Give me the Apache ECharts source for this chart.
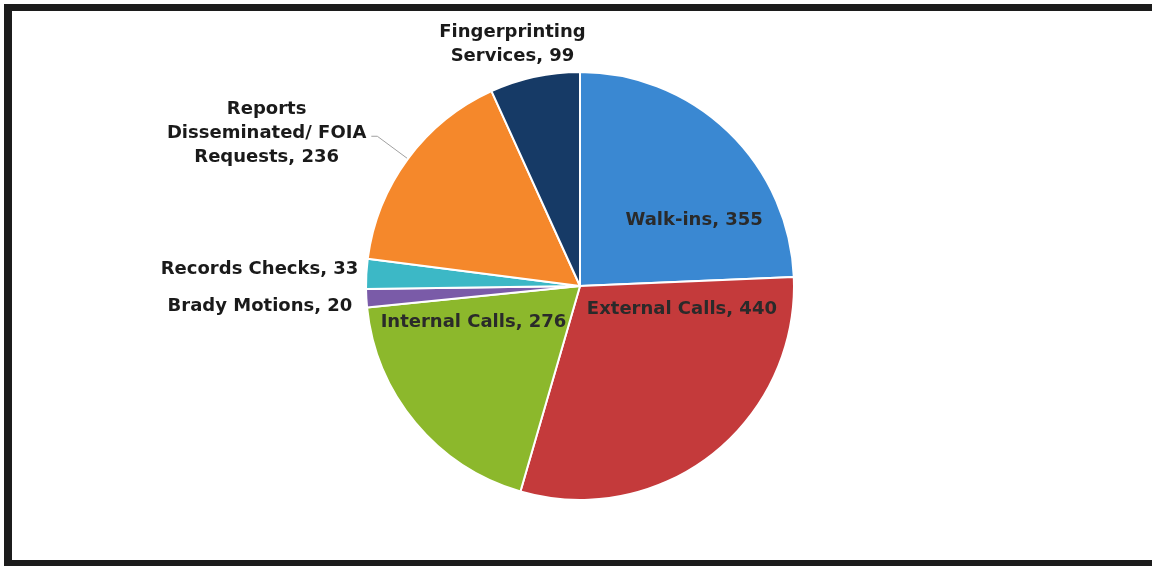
<!DOCTYPE html>
<html>
<head>
<meta charset="utf-8">
<title>Requests by type</title>
<script src="https://cdn.jsdelivr.net/npm/echarts@6/dist/echarts.min.js"></script>
<style>
  html, body { margin: 0; padding: 0; background: #fff; }
  #chart { width: 1152px; height: 566px; }
  #frame {
    position: absolute; left: 4px; top: 4px; right: -20px; bottom: 0;
    border-top: 7px solid #1c1c1c; border-left: 8px solid #1c1c1c; border-bottom: 6px solid #1c1c1c;
    box-sizing: border-box; pointer-events: none;
  }
</style>
</head>
<body>
<div id="chart"></div>
<div id="frame"></div>
<script>
const categories = [
  'Walk-ins',
  'External Calls',
  'Internal Calls',
  'Brady Motions',
  'Records Checks',
  'Reports\nDisseminated/ FOIA\nRequests',
  'Fingerprinting\nServices'
]
const counts = [355, 440, 276, 20, 33, 236, 99]
const colors = ['#3a88d2', '#c43a3b', '#8cb82c', '#7a5ba8', '#3cb8c6', '#f5882b', '#163a66']
const insideLabels = [0, 1, 2]

// nudges for the labels that were moved by hand in the original
const labelShift = {
  0: [38, 14],
  1: [34, -63],
  2: [-22, -34],
  3: [-9, 8],
  4: [-3, -4],
  5: [0, -3],
  6: [56, -33]
}

const chart = echarts.init(document.getElementById('chart'))

const data = categories.map((name, i) => {
  const inside = insideLabels.includes(i)
  const item = {
    name: name,
    value: counts[i],
    itemStyle: { color: colors[i] },
    label: {
      position: inside ? 'inside' : 'outside',
      color: inside ? '#2a2a2a' : '#1a1a1a'
    },
    labelLine: { show: false, length: 0, length2: 0 }
  }
  if (i === 5) {
    item.labelLine = { show: true, length: 38, length2: 6, lineStyle: { color: '#a0a0a0', width: 1 } }
  }
  return item
})

chart.setOption({
  animation: false,
  series: [
    {
      type: 'pie',
      center: [580, 286],
      radius: 214,
      startAngle: 90,
      clockwise: true,
      avoidLabelOverlap: false,
      itemStyle: { borderColor: '#fff', borderWidth: 2 },
      label: {
        fontFamily: 'DejaVu Sans',
        fontWeight: 'bold',
        fontSize: 18,
        lineHeight: 24,
        formatter: p => p.name.split('\n').map((s, k, arr) =>
          '{c|' + s + (k === arr.length - 1 ? ', ' + p.value : '') + '}').join('\n'),
        rich: {
          c: { align: 'center', fontFamily: 'DejaVu Sans', fontWeight: 'bold', fontSize: 18, lineHeight: 24 }
        }
      },
      labelLayout: p => {
        const s = labelShift[p.dataIndex]
        return s ? { dx: s[0], dy: s[1] } : {}
      },
      data: data
    }
  ]
})
</script>
</body>
</html>
